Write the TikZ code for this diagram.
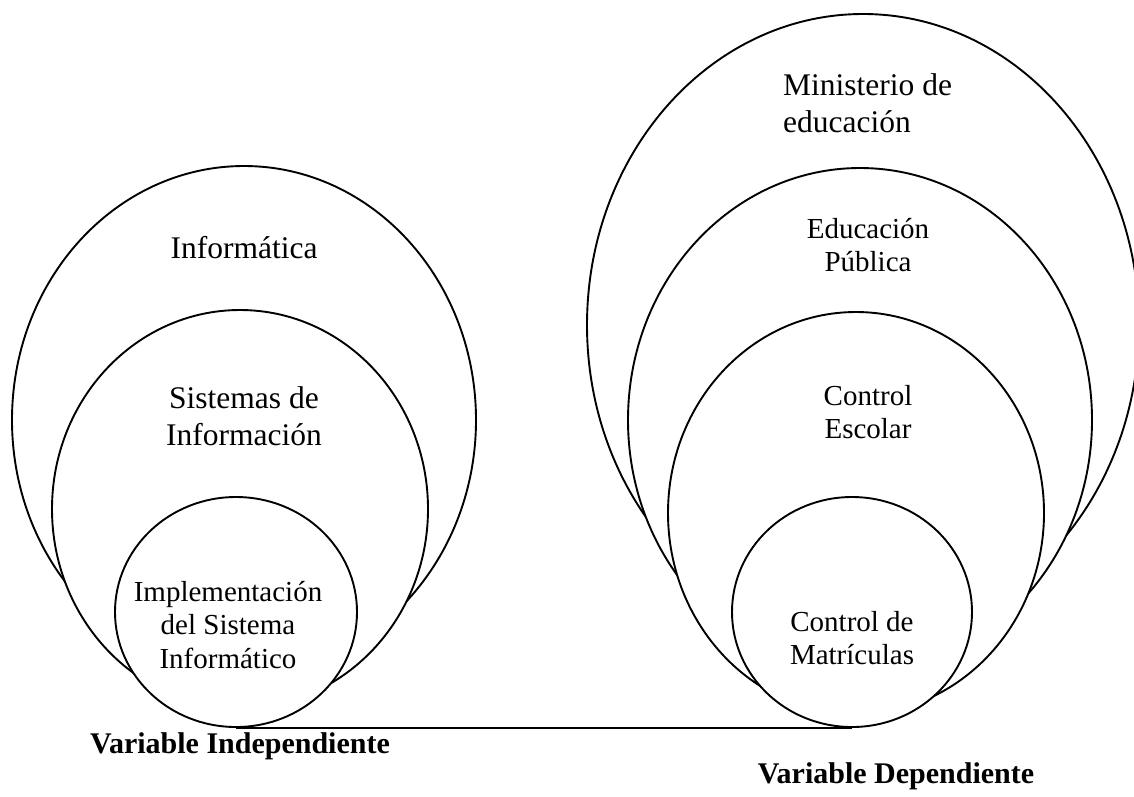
\documentclass[tikz,border=0pt]{standalone}
\usepackage{fontspec}
\setmainfont{Liberation Serif}
\usetikzlibrary{shapes.geometric}
\tikzset{
  ring/.style={ellipse, draw, fill=white, line width=1.9pt, inner sep=0pt},
  big/.style={font=\fontsize{31.5}{37}\selectfont, align=center, inner sep=0pt},
  small/.style={font=\fontsize{29}{33.5}\selectfont, align=center, inner sep=0pt},
  varlabel/.style={font=\fontsize{30}{34}\selectfont\bfseries, inner sep=0pt},
  link/.style={line width=1.9pt}
}
\begin{document}
\begin{tikzpicture}[x=1pt,y=-1pt]
\useasboundingbox (0,0) rectangle (1134,796);
% left group
\node[ring, minimum width=464, minimum height=508] (infO) at (244,420) {};
\node[ring, minimum width=376, minimum height=398] (sisO) at (240,509) {};
\node[ring, minimum width=242, minimum height=230] (impO) at (236,612) {};
\node[big] (infT) at (244,248) {Informática};
\node[big] (sisT) at (244,416) {Sistemas de\\Información};
\node[small] (impT) at (228,625) {Implementación\\del Sistema\\Informático};
% right group
\node[ring, minimum width=552, minimum height=622] (minO) at (863,325) {};
\node[ring, minimum width=464, minimum height=504] (eduO) at (860,420) {};
\node[ring, minimum width=376, minimum height=402] (escO) at (856,513) {};
\node[ring, minimum width=240, minimum height=230] (matO) at (852,612) {};
\node[big, align=left, anchor=west] (minT) at (783,103) {Ministerio de\\educación};
\node[small] (eduT) at (868,245) {Educación\\Pública};
\node[small] (escT) at (868,412) {Control\\Escolar};
\node[small] (matT) at (852,638) {Control de\\Matrículas};
% connector
\draw[link] (impO.south) -- (matO.south);
% labels
\node[varlabel] (indep) at (240,746) {Variable Independiente};
\node[varlabel] (dep) at (896,776) {Variable Dependiente};
\end{tikzpicture}
\end{document}
